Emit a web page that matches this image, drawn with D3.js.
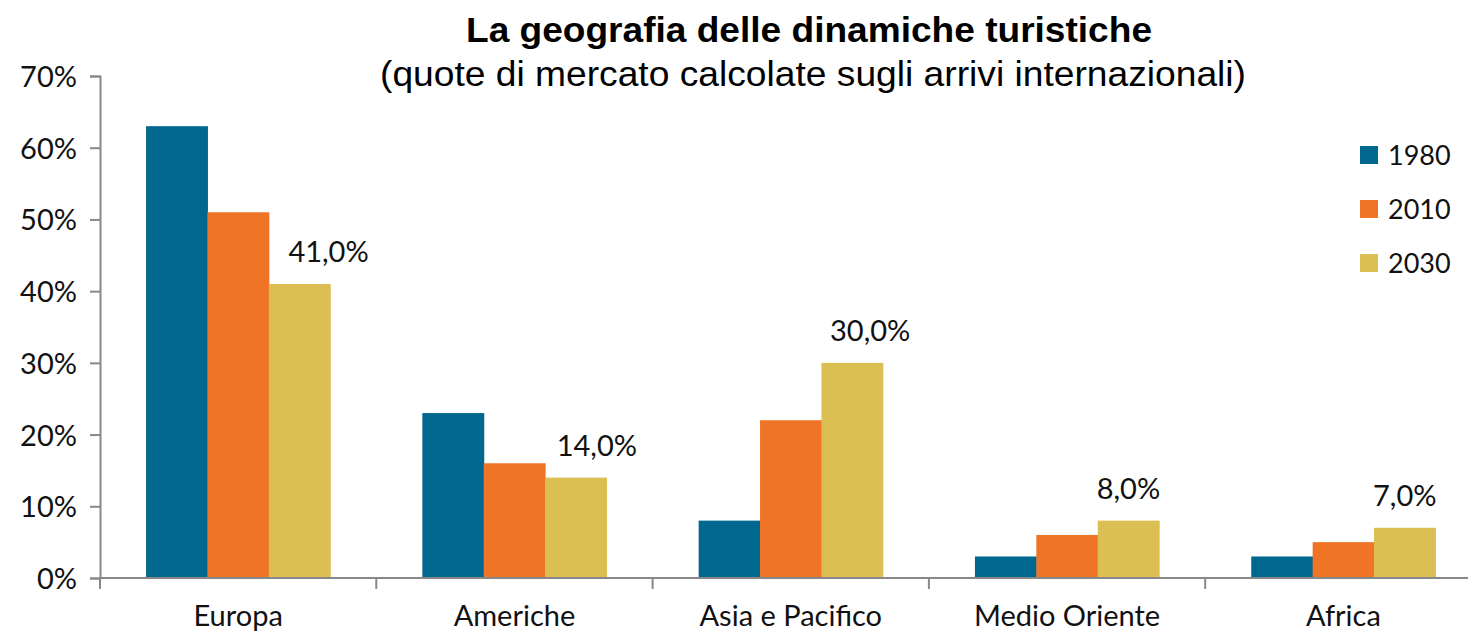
<!DOCTYPE html>
<html>
<head>
<meta charset="utf-8">
<script src="https://cdn.jsdelivr.net/npm/d3@7"></script>
<style>
  body { margin: 0; background: #fff; }
  svg { display: block; }
</style>
</head>
<body>
<div class="chart"></div>
<script>
// data
const categories = ['Europa', 'Americhe', 'Asia e Pacifico', 'Medio Oriente', 'Africa'];
const years = ['1980', '2010', '2030'];
const v1980 = [63, 23, 8, 3, 3];
const v2010 = [51, 16, 22, 6, 5];
const v2030 = [41, 14, 30, 8, 7];
const yTicks = [0, 10, 20, 30, 40, 50, 60, 70];
const colors = ['#00688f', '#f07426', '#dbbf53'];
// labels were nudged by hand in the original, px to the right of the bar centre
const labelNudge = [29, 21, 18, 0, 0];

const W = 1468, H = 633;
const margin = {top: 76, left: 100, bottom: 55};
const plotBottom = 578;
const catW = 276.3;

const svg = d3.select('.chart')
    .append('svg')
    .attr('width', W)
    .attr('height', H);

const x0 = d3.scaleBand()
    .domain(categories)
    .range([margin.left, margin.left + catW * categories.length])
    .paddingInner(0)
    .paddingOuter(0);

const x1 = d3.scaleBand()
    .domain(years)
    .range([0, x0.bandwidth()])
    .paddingOuter(0.75)
    .paddingInner(0);

const y = d3.scaleLinear()
    .domain([0, 70])
    .range([plotBottom, margin.top]);

const series = years.map((yr, i) => ({
    year: yr,
    color: colors[i],
    values: [v1980, v2010, v2030][i]
}));

// bars
const groups = svg.selectAll('.grp')
    .data(series)
    .enter()
    .append('g')
    .attr('class', 'grp')
    .attr('fill', d => d.color);

groups.selectAll('rect')
    .data(d => d.values.map((v, i) => ({cat: categories[i], year: d.year, v: v})))
    .enter()
    .append('rect')
    .attr('x', d => x0(d.cat) + x1(d.year))
    .attr('width', x1.bandwidth() + 0.5)
    .attr('y', d => y(d.v))
    .attr('height', d => y(0) - y(d.v));

// labels on the 2030 bars
svg.selectAll('.vlabel')
    .data(v2030)
    .enter()
    .append('text')
    .attr('class', 'vlabel')
    .attr('x', (d, i) => x0(categories[i]) + x1('2030') + x1.bandwidth() / 2 + labelNudge[i])
    .attr('y', d => y(d) - 22)
    .attr('text-anchor', 'middle')
    .style('font-family', 'Lato')
    .style('font-size', '29px')
    .style('fill', '#111')
    .text(d => d3.format('.1f')(d).replace('.', ',') + '%');

// y axis
const yAxis = svg.append('g')
    .attr('transform', `translate(${margin.left},0)`)
    .call(d3.axisLeft(y).tickValues(yTicks).tickSize(10).tickPadding(13).tickFormat(d => d + '%'));

// x axis
const xAxis = svg.append('g')
    .attr('transform', `translate(0,${plotBottom})`)
    .call(d3.axisBottom(x0).tickSize(0).tickPadding(27));

xAxis.selectAll('.tick')
    .append('line')
    .attr('x1', -catW / 2).attr('x2', -catW / 2)
    .attr('y1', 0).attr('y2', 11)
    .attr('stroke', '#888')
    .attr('stroke-width', 2);

[yAxis, xAxis].forEach(a => {
    a.select('.domain').attr('stroke', '#888').attr('stroke-width', 2);
    a.selectAll('.tick line').attr('stroke', '#888').attr('stroke-width', 2);
    a.selectAll('.tick text')
        .style('font-family', 'Lato')
        .style('font-size', '29px')
        .style('fill', '#111');
});
yAxis.selectAll('.tick text').attr('dy', '0.36em');
xAxis.select('.domain').attr('d', `M${margin.left},0H${W}`);

// legend
const legend = svg.selectAll('.legend')
    .data(series)
    .enter()
    .append('g')
    .attr('class', 'legend')
    .attr('transform', (d, i) => `translate(1360, ${146 + i * 54})`);

legend.append('rect')
    .attr('width', 18)
    .attr('height', 18)
    .attr('fill', d => d.color);

legend.append('text')
    .attr('x', 28)
    .attr('y', 9)
    .attr('dy', '0.36em')
    .style('font-family', 'Lato')
    .style('font-size', '27px')
    .style('fill', '#111')
    .text(d => d.year);

// title
svg.append('text')
    .attr('x', 809)
    .attr('y', 42)
    .attr('text-anchor', 'middle')
    .attr('textLength', 686)
    .attr('lengthAdjust', 'spacingAndGlyphs')
    .style('font-family', 'Liberation Sans, Arial')
    .style('font-weight', 'bold')
    .style('font-size', '35px')
    .style('fill', '#000')
    .text('La geografia delle dinamiche turistiche');

svg.append('text')
    .attr('x', 813)
    .attr('y', 86)
    .attr('text-anchor', 'middle')
    .attr('textLength', 866)
    .attr('lengthAdjust', 'spacingAndGlyphs')
    .style('font-family', 'Liberation Sans, Arial')
    .style('font-size', '35px')
    .style('fill', '#000')
    .text('(quote di mercato calcolate sugli arrivi internazionali)');
</script>
</body>
</html>
